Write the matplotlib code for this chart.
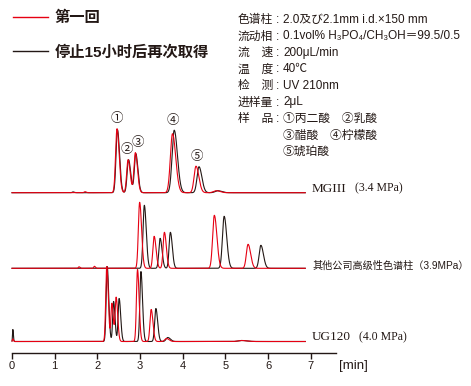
import numpy as np
import matplotlib
matplotlib.use('Agg')
import matplotlib.pyplot as plt

plt.rcParams['font.family'] = ['Liberation Sans', 'Noto Sans CJK SC', 'DejaVu Sans']

RED = '#e60012'
BLACK = '#231815'
INK = '#231815'

# peak tables: retention time [min], height, width (sigma, min)
MG_RED_RT = [1.71, 2.46, 2.72, 2.89, 3.76, 4.31, 4.78]
MG_RED_H = [1.0, 64, 33, 40, 59, 26.5, 2]
MG_RED_W = [0.02, 0.033, 0.033, 0.033, 0.05, 0.045, 0.06]
MG_BLK_RT = [1.43, 2.47, 2.73, 2.90, 3.80, 4.38, 4.82]
MG_BLK_H = [0.8, 63, 33, 39, 62.5, 26, 2]
MG_BLK_W = [0.02, 0.033, 0.033, 0.033, 0.05, 0.045, 0.06]

OT_RED_RT = [1.57, 1.93, 2.99, 3.33, 3.57, 4.74, 5.53]
OT_RED_H = [1.5, 2, 66, 32, 36, 53, 24]
OT_RED_W = [0.015, 0.015, 0.03, 0.03, 0.03, 0.04, 0.04]
OT_BLK_RT = [3.10, 3.47, 3.71, 4.97, 5.83]
OT_BLK_H = [63, 30, 36, 52, 23]
OT_BLK_W = [0.03, 0.03, 0.03, 0.04, 0.04]

UG_RED_RT = [0.02, 2.22, 2.34, 2.44, 2.94, 3.26, 3.62, 5.38]
UG_RED_H = [2.5, 75, 38, 44, 72, 32, 3, 1]
UG_RED_W = [0.01, 0.024, 0.022, 0.024, 0.025, 0.028, 0.04, 0.08]
UG_BLK_RT = [0.02, 2.23, 2.38, 2.51, 3.02, 3.37, 3.65, 5.38]
UG_BLK_H = [12, 75, 40, 43, 70, 33, 4, 1]
UG_BLK_W = [0.008, 0.024, 0.022, 0.024, 0.025, 0.028, 0.04, 0.08]

MG_LABELS = ['①', '②', '③', '④', '⑤']
MG_LABEL_RT = [2.46, 2.70, 2.95, 3.77, 4.34]
MG_LABEL_H = [64, 33, 40, 62.5, 26.5]

TRACE_NAMES = ['MGIII  (3.4 MPa)', '其他公司高级性色谱柱（3.9MPa）', 'UG120  (4.0 MPa)']
LEGEND = ['第一回', '停止15小时后再次取得']

COND_KEYS = ['色谱柱', '流动相', '流　速', '温　度', '检　测', '进样量', '样　品', '', '']
COND_VALS = ['2.0及び2.1mm i.d.×150 mm',
             '0.1vol% H₃PO₄/CH₃OH＝99.5/0.5',
             '200μL/min',
             '40℃',
             'UV 210nm',
             '2μL',
             '①丙二酸　②乳酸',
             '③醋酸　④柠檬酸',
             '⑤琥珀酸']

T_END = 6.87
TAIL = 1.5


def trace(t, rts, hs, ws):
    y = np.zeros_like(t)
    for rt, h, w in zip(rts, hs, ws):
        s = np.where(t < rt, w, w * TAIL)
        y += h * np.exp(-0.5 * ((t - rt) / s) ** 2)
    return y


def main():
    fig = plt.figure(figsize=(4.71, 3.86), dpi=100)
    ax = fig.add_axes([12 / 471, 33 / 386, 324 / 471, 353 / 386])
    ax.set_xlim(0, 7.59)
    ax.set_ylim(0, 353)

    t = np.linspace(0, T_END, 3000)
    bases = [160.3, 84.7, 11.5]
    runs = [
        (MG_RED_RT, MG_RED_H, MG_RED_W, MG_BLK_RT, MG_BLK_H, MG_BLK_W),
        (OT_RED_RT, OT_RED_H, OT_RED_W, OT_BLK_RT, OT_BLK_H, OT_BLK_W),
        (UG_RED_RT, UG_RED_H, UG_RED_W, UG_BLK_RT, UG_BLK_H, UG_BLK_W),
    ]
    handles = None
    for base, (rr, rh, rw, br, bh, bw), name in zip(bases, runs, TRACE_NAMES):
        lb, = ax.plot(t, base + trace(t, br, bh, bw), color=BLACK, lw=0.8,
                      clip_on=False)
        lr, = ax.plot(t, base + trace(t, rr, rh, rw), color=RED, lw=0.8,
                      clip_on=False)
        if handles is None:
            handles = [lr, lb]
        if name.startswith('其他'):
            ax.text(7.03, base + 2, name, fontsize=7.3, color=INK,
                    va='center', ha='left', family=['Liberation Sans', 'Noto Sans CJK SC'])
        else:
            main_name, press = name.split('  ')
            tx = ax.text(7.03, base + 4, main_name, fontsize=9.5, color=INK,
                         va='center', ha='left', family='Liberation Serif')
            ax.annotate(press, xy=(1, 0.5), xycoords=tx, xytext=(6, 0),
                        textcoords='offset points', fontsize=8.5, color=INK,
                        va='center', ha='left', family='Liberation Serif')

    for lab, rt, h in zip(MG_LABELS, MG_LABEL_RT, MG_LABEL_H):
        ax.annotate(lab, xy=(rt, bases[0] + h), xytext=(0, 7),
                    textcoords='offset points', ha='center', va='center',
                    fontsize=9, color=INK, family='Noto Sans CJK SC')

    for side in ['top', 'left', 'right']:
        ax.spines[side].set_visible(False)
    ax.spines['bottom'].set_linewidth(1.0)
    ax.spines['bottom'].set_color(INK)
    ax.set_yticks([])
    ax.set_xticks(range(8))
    ax.tick_params(axis='x', direction='out', length=4, width=1.0,
                   color=INK, labelsize=8, labelcolor=INK, pad=2)
    ax.annotate('[min]', xy=(7.66, 0), xycoords=('data', 'axes fraction'),
                xytext=(0, -9), textcoords='offset points',
                fontsize=9.5, color=INK, va='center', ha='left',
                annotation_clip=False)

    leg = fig.legend(handles, LEGEND, loc='upper left',
                     bbox_to_anchor=(13 / 471, 1 - 11 / 386), frameon=False,
                     borderpad=0, borderaxespad=0, handlelength=2.3,
                     handletextpad=0.4, labelspacing=1.3,
                     prop={'family': ['Liberation Sans', 'Noto Sans CJK SC'],
                           'weight': 'bold', 'size': 11})
    for txt in leg.get_texts():
        txt.set_color(INK)
    for ln in leg.get_lines():
        ln.set_linewidth(1.0)

    fam = ['Liberation Sans', 'Noto Sans CJK SC', 'DejaVu Sans']
    for i, (k, v) in enumerate(zip(COND_KEYS, COND_VALS)):
        y = 1 - (20 + i * 16.5) / 386
        if k:
            fig.text(238 / 471, y, k, fontsize=8.5, color=INK, va='center',
                     ha='left', family=fam)
            fig.text(276 / 471, y, ':', fontsize=8.5, color=INK, va='center',
                     ha='left', family=fam)
        fig.text(283 / 471, y, v, fontsize=8.5, color=INK, va='center',
                 ha='left', family=fam)

    fig.savefig('out.png', dpi=100)


if __name__ == '__main__':
    main()
